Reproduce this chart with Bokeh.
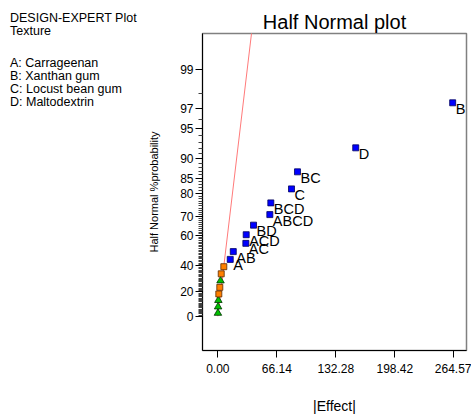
from statistics import NormalDist
from bokeh.plotting import figure
from bokeh.models import FixedTicker, Div
from bokeh.layouts import row
from bokeh.embed import file_html
from bokeh.resources import INLINE
from bokeh.core.properties import value

# ---- data ----
# model terms (blue squares): |Effect| and half-normal % probability
term_names = ["A", "AB", "AC", "ACD", "BD", "ABCD", "BCD", "C", "BC", "D", "B"]
term_effect = [13.9, 17.3, 31.4, 31.8, 40.0, 58.3, 59.4, 82.6, 89.3, 154.6, 263.3]
term_prob = [44.7, 50.0, 55.3, 60.5, 65.8, 71.1, 76.3, 81.6, 86.8, 92.1, 97.4]

# error estimates (orange squares)
error_effect = [1.1, 2.2, 3.8, 6.7]
error_prob = [18.4, 23.7, 34.2, 39.5]

# pure error (green triangles)
pure_effect = [0.1, 0.3, 0.6, 3.0]
pure_prob = [2.6, 7.9, 13.2, 28.9]

# fitted half-normal line through the origin: |Effect| per unit of half-normal score
fit_slope = 12.8

x_ticks = [0.00, 66.14, 132.28, 198.42, 264.57]
y_tick_pcts = [0, 20, 40, 60, 70, 80, 85, 90, 95, 97, 99]
y_minor_pcts = [q for q in range(1, 99) if q not in y_tick_pcts]

legend_lines = ["DESIGN-EXPERT Plot", "Texture", "A: Carrageenan",
                "B: Xanthan gum", "C: Locust bean gum", "D: Maltodextrin"]

# ---- half-normal probability scale ----
_nd = NormalDist()


def hn(p):
    return _nd.inv_cdf(0.5 + p / 200.0)


FONT = "Liberation Sans"
X0, X1 = -17.2, 278.8
Y0, Y1 = -0.357, 2.949
SIDE_W = 145
W, H = 471 - SIDE_W, 416
ML, MR, MT, MB = 202 - SIDE_W, 5, 33, 65

p = figure(width=W, height=H, output_backend="svg", toolbar_location=None,
           x_range=(X0, X1), y_range=(Y0, Y1),
           min_border_left=ML, min_border_right=MR, min_border_top=MT,
           min_border_bottom=MB, margin=0)

p.title.text = "Half Normal plot"
p.title.align = "center"
p.title.text_font = FONT
p.title.text_font_size = "20px"
p.title.text_font_style = "normal"
p.title.text_color = "black"
p.title.standoff = 2

p.xgrid.visible = False
p.ygrid.visible = False
p.outline_line_color = "#808080"
p.outline_line_width = 1.5

# x axis
p.xaxis.ticker = FixedTicker(ticks=x_ticks)
p.xaxis.major_label_overrides = {t: f"{t:.2f}" for t in x_ticks}
p.xaxis.axis_label = "|Effect|"
p.xaxis.axis_label_text_font = FONT
p.xaxis.axis_label_text_font_size = "14px"
p.xaxis.axis_label_text_font_style = "normal"
p.xaxis.axis_label_text_color = "black"
p.xaxis.axis_label_standoff = 22
p.xaxis.major_label_text_font = FONT
p.xaxis.major_label_text_font_size = "12px"
p.xaxis.major_label_text_color = "black"
p.xaxis.major_label_standoff = 6
p.xaxis.major_tick_out = 7
p.xaxis.major_tick_in = 0
p.xaxis.minor_tick_line_color = None
p.xaxis.axis_line_color = "black"
p.xaxis.major_tick_line_color = "black"

# y axis
y_major = [hn(q) for q in y_tick_pcts]
y_minor = [hn(q) for q in y_minor_pcts]
p.yaxis.ticker = FixedTicker(ticks=y_major, minor_ticks=y_minor)
p.yaxis.major_label_overrides = {z: str(q) for z, q in zip(y_major, y_tick_pcts)}
p.yaxis.axis_label = "Half Normal %probability"
p.yaxis.axis_label_text_font = FONT
p.yaxis.axis_label_text_font_size = "11px"
p.yaxis.axis_label_text_font_style = "normal"
p.yaxis.axis_label_text_color = "black"
p.yaxis.axis_label_standoff = 17
p.yaxis.major_label_text_font = FONT
p.yaxis.major_label_text_font_size = "12px"
p.yaxis.major_label_text_color = "black"
p.yaxis.major_label_standoff = 2
p.yaxis.major_tick_out = 7
p.yaxis.major_tick_in = 0
p.yaxis.minor_tick_out = 4
p.yaxis.minor_tick_in = 0
p.yaxis.minor_tick_line_color = "#404040"
p.yaxis.axis_line_color = "black"
p.yaxis.major_tick_line_color = "black"

# fitted line
p.line([0, fit_slope * 3.2], [0, 3.2], line_color="#ff7a7a", line_width=1)

# markers
p.scatter(pure_effect, [hn(q) for q in pure_prob], marker="triangle", size=7.5,
          fill_color="#00c000", line_color="#003000", line_width=0.8)
p.scatter(error_effect, [hn(q) for q in error_prob], marker="square", size=6,
          fill_color="#ff8000", line_color="#5a2800", line_width=0.8)
term_z = [hn(q) for q in term_prob]
p.scatter(term_effect, term_z, marker="square", size=6,
          fill_color="#0000ff", line_color="#000060", line_width=0.8)
p.text(term_effect, term_z, text=term_names, x_offset=3, y_offset=-2,
       text_baseline="top", text_align="left", text_font=value(FONT),
       text_font_size="14.5px", text_color="black")

# side legend text block (left of the plot)
legend_tops = [11.5, 24.5, 56.5, 69.5, 82.5, 95.5]
items = "".join(
    f'<div style="position:absolute;left:10px;top:{t}px;white-space:nowrap;">{txt}</div>'
    for txt, t in zip(legend_lines, legend_tops))
side = Div(width=SIDE_W, height=H, margin=0,
           text=('<div style="position:relative;width:%dpx;height:%dpx;'
                 'font-family:\'Liberation Sans\';font-size:12.5px;line-height:13px;'
                 'color:black;">%s</div>' % (SIDE_W, H, items)))

layout = row(side, p, spacing=0, margin=0)

open("out.html", "w").write(file_html(layout, INLINE))
